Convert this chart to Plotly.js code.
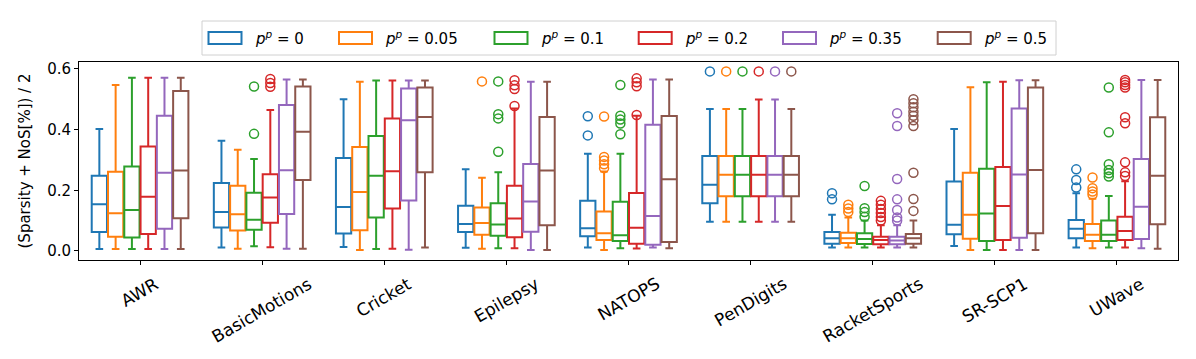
<!DOCTYPE html>
<html>
<head>
<meta charset="utf-8">
<script src="https://cdn.plot.ly/plotly-3.0.1.min.js"></script>
<style>
  html, body { margin: 0; padding: 0; background: #fff; }
  #chart { width: 1196px; height: 359px; }
</style>
</head>
<body>
<div id="chart"></div>
<script>
// Grouped box plot: (Sparsity + NoS[%]) / 2 per dataset, one box per p^p level.

const DATASETS = ["AWR", "BasicMotions", "Cricket", "Epilepsy", "NATOPS",
                  "PenDigits", "RacketSports", "SR-SCP1", "UWave"];
const PP_LEVELS = ["0", "0.05", "0.1", "0.2", "0.35", "0.5"];
const COLORS = ["#1f77b4", "#ff7f0e", "#2ca02c", "#d62728", "#9467bd", "#8c564b"];

// one row per p^p level, one value per dataset
const LOWER = [
  [0.006, 0.011, 0.013, 0.010, 0.011, 0.096, 0.011, 0.016, 0.011],
  [0.006, 0.007, 0.003, 0.007, 0.003, 0.096, 0.011, 0.003, 0.009],
  [0.006, 0.015, 0.006, 0.009, 0.009, 0.096, 0.011, 0.003, 0.011],
  [0.006, 0.012, 0.007, 0.009, 0.008, 0.096, 0.011, 0.003, 0.011],
  [0.006, 0.007, 0.004, 0.003, 0.011, 0.096, 0.011, 0.003, 0.009],
  [0.006, 0.007, 0.011, 0.003, 0.009, 0.096, 0.011, 0.003, 0.007],
];
const Q1 = [
  [0.062, 0.077, 0.057, 0.062, 0.048, 0.157, 0.024, 0.055, 0.042],
  [0.047, 0.067, 0.068, 0.053, 0.036, 0.180, 0.026, 0.040, 0.033],
  [0.044, 0.070, 0.110, 0.050, 0.033, 0.180, 0.023, 0.033, 0.033],
  [0.056, 0.093, 0.140, 0.045, 0.024, 0.180, 0.022, 0.036, 0.036],
  [0.073, 0.122, 0.166, 0.063, 0.020, 0.180, 0.022, 0.043, 0.039],
  [0.108, 0.234, 0.259, 0.085, 0.029, 0.180, 0.024, 0.058, 0.088],
];
const MEDIAN = [
  [0.154, 0.128, 0.145, 0.089, 0.075, 0.218, 0.042, 0.086, 0.073],
  [0.124, 0.121, 0.194, 0.092, 0.058, 0.251, 0.042, 0.119, 0.053],
  [0.135, 0.103, 0.248, 0.087, 0.052, 0.251, 0.039, 0.123, 0.053],
  [0.179, 0.176, 0.263, 0.107, 0.076, 0.251, 0.036, 0.148, 0.066],
  [0.258, 0.266, 0.431, 0.163, 0.115, 0.251, 0.034, 0.252, 0.146],
  [0.265, 0.393, 0.442, 0.265, 0.236, 0.251, 0.042, 0.267, 0.248],
];
const Q3 = [
  [0.248, 0.224, 0.306, 0.149, 0.165, 0.313, 0.062, 0.229, 0.102],
  [0.261, 0.215, 0.343, 0.143, 0.130, 0.313, 0.060, 0.258, 0.089],
  [0.278, 0.192, 0.379, 0.157, 0.162, 0.313, 0.058, 0.271, 0.100],
  [0.344, 0.253, 0.437, 0.215, 0.191, 0.313, 0.047, 0.277, 0.113],
  [0.446, 0.481, 0.536, 0.287, 0.416, 0.313, 0.047, 0.470, 0.303],
  [0.527, 0.542, 0.539, 0.442, 0.445, 0.313, 0.056, 0.539, 0.441],
];
const UPPER = [
  [0.402, 0.363, 0.500, 0.269, 0.320, 0.468, 0.119, 0.402, 0.190],
  [0.547, 0.334, 0.558, 0.241, 0.262, 0.468, 0.110, 0.540, 0.172],
  [0.571, 0.303, 0.562, 0.259, 0.320, 0.468, 0.100, 0.556, 0.181],
  [0.571, 0.465, 0.562, 0.470, 0.446, 0.499, 0.085, 0.558, 0.230],
  [0.571, 0.565, 0.562, 0.558, 0.565, 0.499, 0.085, 0.563, 0.564],
  [0.571, 0.565, 0.562, 0.558, 0.565, 0.468, 0.100, 0.563, 0.564],
];
// outliers, per p^p level, per dataset
const FLIERS = [
  [[], [], [], [], [0.444, 0.381], [0.592], [0.190, 0.170], [], [0.269, 0.234, 0.209]],
  [[], [], [], [0.559], [0.443, 0.310, 0.298, 0.286, 0.273], [0.592], [0.152, 0.140, 0.128], [],
   [0.242, 0.207, 0.196, 0.186]],
  [[], [0.542, 0.386], [], [0.559, 0.451, 0.437, 0.327], [0.547, 0.446, 0.433, 0.420, 0.385], [0.592],
   [0.214, 0.141, 0.128, 0.113], [], [0.539, 0.391, 0.286, 0.267, 0.256, 0.245]],
  [[], [0.567, 0.554, 0.541], [], [0.563, 0.546, 0.534, 0.478], [0.569, 0.556, 0.543, 0.448], [0.592],
   [0.165, 0.152, 0.138, 0.125, 0.112, 0.100], [],
   [0.564, 0.556, 0.547, 0.539, 0.441, 0.421, 0.292, 0.259, 0.247]],
  [[], [], [], [], [], [0.592], [0.454, 0.412, 0.237, 0.170, 0.135, 0.110, 0.100], [], []],
  [[], [], [], [], [], [0.592],
   [0.500, 0.487, 0.474, 0.459, 0.446, 0.431, 0.412, 0.258, 0.171, 0.132], [], []],
];

const FONT = "DejaVu Sans, sans-serif";
const STEP = 0.8 / PP_LEVELS.length;   // dodge between hue boxes
const BOX_W = 0.125;

// plot area in pixels, used to place the hand-made legend
const PLOT = { l: 79, r: 1178, t: 62, b: 260 };
const px = (x) => (x - PLOT.l) / (PLOT.r - PLOT.l);
const py = (y) => (PLOT.b - y) / (PLOT.b - PLOT.t);

const traces = [];
PP_LEVELS.forEach((lvl, j) => {
  const xs = DATASETS.map((_, i) => i + (j - (PP_LEVELS.length - 1) / 2) * STEP);
  traces.push({
    type: "box", name: `p^p = ${lvl}`, x: xs,
    q1: Q1[j], median: MEDIAN[j], q3: Q3[j],
    lowerfence: LOWER[j], upperfence: UPPER[j],
    width: BOX_W, whiskerwidth: 0.5, boxpoints: false,
    line: { color: COLORS[j], width: 2 },
    fillcolor: "rgba(255,255,255,0)",
    showlegend: false, hoverinfo: "skip",
  });
  const fx = [], fy = [];
  FLIERS[j].forEach((vals, i) => vals.forEach((v) => { fx.push(xs[i]); fy.push(v); }));
  traces.push({
    type: "scatter", mode: "markers", x: fx, y: fy,
    marker: { symbol: "circle-open", size: 9, color: COLORS[j], line: { width: 1.5 } },
    showlegend: false, hoverinfo: "skip",
  });
});

// x tick labels rotated 30°, centred under the tick like matplotlib
const annotations = DATASETS.map((d, i) => ({
  text: d, x: i, xref: "x", y: py(271), yref: "paper",
  xanchor: "center", yanchor: "top", textangle: -30, showarrow: false,
  font: { family: FONT, size: 17, color: "#000" },
}));

// legend: frame + outlined patches + labels
const LEG_PATCH_X = [207.5, 338, 493.5, 637.7, 782, 936.7];
const shapes = [{
  type: "rect", xref: "paper", yref: "paper",
  x0: px(202), x1: px(1056), y0: py(55), y1: py(21),
  line: { color: "#d0d0d0", width: 1 }, fillcolor: "rgba(255,255,255,0.8)",
}];
PP_LEVELS.forEach((lvl, j) => {
  const x0 = LEG_PATCH_X[j];
  shapes.push({
    type: "rect", xref: "paper", yref: "paper",
    x0: px(x0 + 1), x1: px(x0 + 34), y0: py(44), y1: py(32),
    line: { color: COLORS[j], width: 2 }, fillcolor: "#fff",
  });
  annotations.push({
    text: `<i>p</i><sup><i>p</i></sup> = ${lvl}`,
    x: px(x0 + 45), xref: "paper", y: py(38), yref: "paper",
    xanchor: "left", yanchor: "middle", showarrow: false,
    font: { family: FONT, size: 15, color: "#000" },
  });
});

const layout = {
  width: 1196, height: 359,
  margin: { l: PLOT.l, r: 1196 - PLOT.r, t: PLOT.t, b: 359 - PLOT.b },
  paper_bgcolor: "#fff", plot_bgcolor: "#fff",
  font: { family: FONT, size: 14, color: "#000" },
  showlegend: false, boxmode: "overlay",
  xaxis: {
    range: [-0.5, 8.5], tickvals: DATASETS.map((_, i) => i), showticklabels: false,
    ticks: "outside", ticklen: 4, tickcolor: "#000", showgrid: false, zeroline: false,
    showline: true, linecolor: "#000", linewidth: 1, mirror: true,
  },
  yaxis: {
    range: [-0.03, 0.623], tickvals: [0, 0.2, 0.4, 0.6], tickformat: ".1f",
    ticks: "outside", ticklen: 4, tickcolor: "#000", showgrid: false, zeroline: false,
    showline: true, linecolor: "#000", linewidth: 1, mirror: true,
    tickfont: { family: FONT, size: 15 },
    title: { text: "(Sparsity + NoS[%]) / 2", font: { family: FONT, size: 15 }, standoff: 12 },
  },
  shapes, annotations,
};

Plotly.newPlot("chart", traces, layout, { staticPlot: true, displayModeBar: false });
</script>
</body>
</html>
